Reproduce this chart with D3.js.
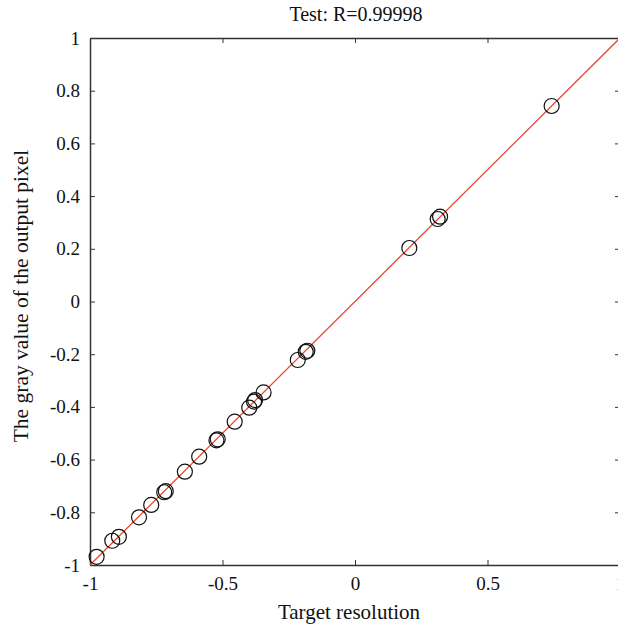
<!DOCTYPE html>
<html><head><meta charset="utf-8">
<script src="https://cdn.jsdelivr.net/npm/d3@7"></script>
<style>body{margin:0;background:#fff}svg{display:block}</style>
</head><body>
<script>
const targets = [-0.975,-0.916,-0.891,-0.815,-0.769,-0.720,-0.714,-0.642,-0.588,-0.523,-0.518,-0.454,-0.399,-0.381,-0.377,-0.345,-0.216,-0.186,-0.180,0.205,0.312,0.321,0.742];
const outputs = [-0.969,-0.908,-0.893,-0.819,-0.772,-0.724,-0.720,-0.646,-0.589,-0.527,-0.523,-0.456,-0.403,-0.380,-0.374,-0.345,-0.222,-0.191,-0.187,0.203,0.313,0.322,0.742];
const fitLine = [-1, 1];
const xTicks = [-1,-0.5,0,0.5,1];
const yTicks = [-1,-0.8,-0.6,-0.4,-0.2,0,0.2,0.4,0.6,0.8,1];
const title = "Test: R=0.99998";
const xLabel = "Target resolution";
const yLabel = "The gray value of the output pixel";

const W=618,H=627, m={l:90,t:38,r:-2,b:62};
const font='"Liberation Serif","Times New Roman",serif';
const svg=d3.select("body").append("svg").attr("width",W).attr("height",H).style("font-family",font);
const x=d3.scaleLinear().domain([-1,1]).range([m.l,W-m.r]);
const y=d3.scaleLinear().domain([-1,1]).range([H-m.b,m.t]);
const fmt=d=>d===0?"0":String(d);

const axCol="#333";
const gb=svg.append("g").attr("transform",`translate(0,${y(-1)})`).call(d3.axisBottom(x).tickValues(xTicks).tickSizeInner(-5).tickSizeOuter(0).tickPadding(12).tickFormat(fmt));
const gt=svg.append("g").attr("transform",`translate(0,${y(1)})`).call(d3.axisTop(x).tickValues(xTicks).tickSizeInner(-5).tickSizeOuter(0).tickFormat(""));
const gl=svg.append("g").attr("transform",`translate(${x(-1)},0)`).call(d3.axisLeft(y).tickValues(yTicks).tickSizeInner(-5).tickSizeOuter(0).tickPadding(10).tickFormat(fmt));
const gr=svg.append("g").attr("transform",`translate(${x(1)},0)`).call(d3.axisRight(y).tickValues(yTicks).tickSizeInner(-5).tickSizeOuter(0).tickFormat(""));
[gb,gt,gl,gr].forEach(g=>{
  g.select(".domain").attr("stroke",axCol).attr("stroke-width",1.5);
  g.selectAll(".tick line").attr("stroke",axCol).attr("stroke-width",1);
  g.selectAll("text").attr("fill","#111").style("font-size","19px").style("font-family",font);
});

svg.append("line").attr("x1",x(fitLine[0])).attr("y1",y(fitLine[0])).attr("x2",x(fitLine[1])).attr("y2",y(fitLine[1]))
  .attr("stroke","#e8472e").attr("stroke-width",1.3);

svg.append("g").selectAll("circle").data(targets).join("circle")
  .attr("cx",(d)=>x(d)).attr("cy",(d,i)=>y(outputs[i])).attr("r",7.5)
  .attr("fill","none").attr("stroke","#111").attr("stroke-width",1.2);

svg.append("text").attr("x",356).attr("y",21).attr("text-anchor","middle").style("font-size","20px").attr("fill","#111").text(title);
svg.append("text").attr("x",349).attr("y",619).attr("text-anchor","middle").style("font-size","21px").attr("fill","#111").text(xLabel);
svg.append("text").attr("transform",`translate(28,296) rotate(-90)`).attr("text-anchor","middle").style("font-size","21.5px").attr("fill","#111").text(yLabel);
</script>
</body></html>
